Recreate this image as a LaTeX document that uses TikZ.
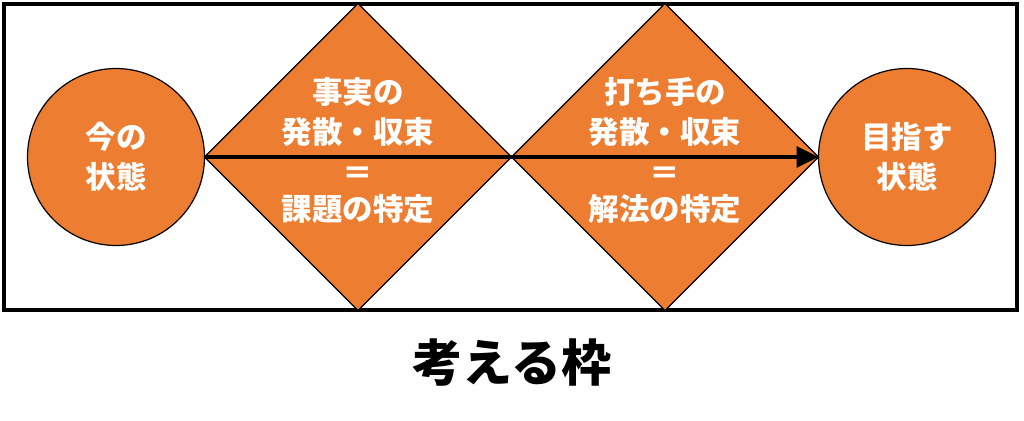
\documentclass[tikz,border=0pt]{standalone}
\usepackage{fontspec}
\newfontfamily\jpfont{Noto Sans CJK JP}
\usepackage{tikz}
\usetikzlibrary{shapes.geometric,positioning,arrows.meta}
\definecolor{boxorange}{HTML}{ED7D31}

\begin{document}
\begin{tikzpicture}[x=1pt,y=1pt,
  state/.style={circle,draw,line width=1.2pt,fill=boxorange,minimum size=177pt,
    inner sep=0pt,outer sep=0pt,text=white,align=center,
    font=\jpfont\bfseries\fontsize{30.5}{40}\selectfont},
  phase/.style={diamond,draw,line width=1.2pt,fill=boxorange,aspect=1,
    minimum width=307pt,minimum height=307pt,inner sep=0pt,outer sep=0pt},
  phasetext/.style={text=white,align=center,inner sep=0pt,
    font=\jpfont\bfseries\fontsize{30.5}{40}\selectfont}]
  \useasboundingbox (0,0) rectangle (1024,420);
  \fill[white] (0,0) rectangle (1024,420);
  \draw[line width=4pt] (4,110) rectangle (1017,416);
  \node[state] (now) at (116,263) {今の\\状態};
  \node[phase, right=0pt of now] (facts) {};
  \node[phase, right=0pt of facts] (remedy) {};
  \node[state, right=0pt of remedy] (goal) {目指す\\状態};
  \node[phasetext] (factsup) at ([yshift=45pt]facts.center) {事実の\\発散・収束};
  \node[phasetext, font=\jpfont\bfseries\fontsize{30.5}{36}\selectfont]
    (factsdown) at ([yshift=-38pt]facts.center) {＝\\課題の特定};
  \node[phasetext] (remedyup) at ([yshift=45pt]remedy.center) {打ち手の\\発散・収束};
  \node[phasetext, font=\jpfont\bfseries\fontsize{30.5}{36}\selectfont]
    (remedydown) at ([yshift=-38pt]remedy.center) {＝\\解法の特定};
  \draw[line width=3.5pt,-{Triangle[length=22pt,width=21pt]}] (now) -- (goal);
  \node[font=\jpfont\bfseries\fontsize{50}{50}\selectfont] (title) at (512,57) {考える枠};
\end{tikzpicture}
\end{document}
